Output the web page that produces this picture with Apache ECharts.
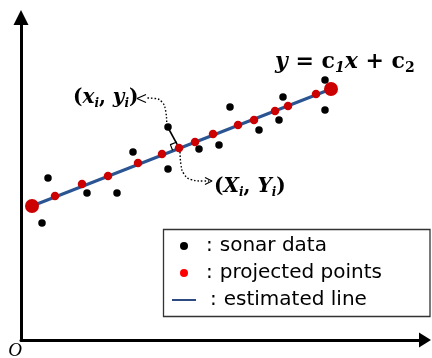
<!DOCTYPE html>
<html>
<head>
<meta charset="utf-8">
<script src="https://cdn.jsdelivr.net/npm/echarts@6/dist/echarts.min.js"></script>
<style>
html,body{margin:0;padding:0;background:#fff;}
#chart{width:432px;height:358px;}
</style>
</head>
<body>
<div id="chart"></div>
<script>
// ---- data (units = px offsets from the origin) ----
var sonarData = [
  [27,162],[21,117],[66,147],[96,147],[112,188],[147,213],[147,171],
  [178,191],[198,195],[209,233],[238,210],[258,220],[262,243],[304,260],[304,230]
];
var projectedPoints = [
  [34,144],[61,156],[87,164],[117,177],[141,186],[158,192],[174,198],
  [192,206],[217,215],[233,220],[254,229],[267,234],[295,246]
];
var lineEnds = [[11,134],[310,251]];
var perpSegment = [[146.7,213],[158.3,191.7]];
var rightAngle = [[151.6,189.6],[149.4,195.4],[155.9,198.0]];
var curveToSample = [[145.7,218],[144.5,230],[141,238],[134,241.5],[125,242]];
var arrowToSample = [[125,245.5],[116,241.5],[125,237.5]];
var curveToProj = [[159,188],[160,175],[163,166],[170,160.5],[182,159],[188,159]];
var arrowToProj = [[184,162.5],[191,159],[184,155.5]];
var legendNames = ['sonar data','projected points','estimated line'];

var chart = echarts.init(document.getElementById('chart'), null, {renderer:'canvas'});

function lineSeries(data, opts){
  return Object.assign({
    type:'line', data:data, symbol:'none', silent:true, z:3,
    lineStyle:{color:'#000', width:1.2}
  }, opts || {});
}

var option = {
  animation:false,
  backgroundColor:'#fff',
  grid:{left:21, right:7, top:17.5, bottom:18, outerBoundsMode:'none'},
  xAxis:{
    type:'value', min:0, max:404,
    axisLine:{show:true, onZero:false, lineStyle:{color:'#000', width:3},
      symbol:['none','triangle'], symbolSize:[15,12]},
    axisTick:{show:false}, axisLabel:{show:false}, splitLine:{show:false}
  },
  yAxis:{
    type:'value', min:0, max:322.5,
    axisLine:{show:true, onZero:false, lineStyle:{color:'#000', width:3},
      symbol:['none','triangle'], symbolSize:[15,15]},
    axisTick:{show:false}, axisLabel:{show:false}, splitLine:{show:false}
  },
  legend:{
    orient:'vertical', left:166, top:231, padding:5,
    itemWidth:24, itemHeight:8, itemGap:7,
    selectedMode:false,
    textStyle:{
      fontFamily:'DejaVu Sans', fontSize:20, color:'#000', lineHeight:20,
      rich:{
        c:{padding:[0,7,0,5], fontFamily:'DejaVu Sans', fontSize:20, lineHeight:20},
        c3:{padding:[0,7,0,9], fontFamily:'DejaVu Sans', fontSize:20, lineHeight:20},
        t:{fontFamily:'DejaVu Sans', fontSize:20, lineHeight:20}
      }
    },
    formatter:function(n){
      return (n === legendNames[2] ? '{c3|:}' : '{c|:}') + '{t|' + n + '}';
    },
    data:[
      {name:legendNames[0], icon:'circle', itemStyle:{color:'#000', opacity:1}},
      {name:legendNames[1], icon:'circle', itemStyle:{color:'#FF0000', opacity:1}},
      {name:legendNames[2], lineStyle:{color:'#2F4A80', width:2},
        itemStyle:{color:'rgba(0,0,0,0)', borderWidth:0, opacity:0}}
    ]
  },
  series:[
    lineSeries(lineEnds, {name:legendNames[2], z:2,
      lineStyle:{color:'#2A5592', width:3}, itemStyle:{color:'#2A5592'}}),
    lineSeries(perpSegment, {lineStyle:{color:'#000', width:1.6}}),
    lineSeries(rightAngle, {lineStyle:{color:'#000', width:1.2}}),
    lineSeries(curveToSample, {smooth:true, lineStyle:{color:'#000', width:1.4, type:[1.5,2]}}),
    lineSeries(arrowToSample, {lineStyle:{color:'#000', width:1.2}}),
    lineSeries(curveToProj, {smooth:true, lineStyle:{color:'#000', width:1.4, type:[1.5,2]}}),
    lineSeries(arrowToProj, {lineStyle:{color:'#000', width:1.2}}),
    {name:legendNames[0], type:'scatter', data:sonarData, symbol:'circle', symbolSize:7.5,
      itemStyle:{color:'#000', opacity:1}, z:4, silent:true},
    {name:legendNames[1], type:'scatter', data:projectedPoints, symbol:'circle', symbolSize:8.5,
      itemStyle:{color:'#CC0000', opacity:1}, z:5, silent:true},
    {name:'line ends', type:'scatter', data:lineEnds, symbol:'circle', symbolSize:14,
      itemStyle:{color:'#CC0000', opacity:1}, z:5, silent:true}
  ],
  graphic:[
    {type:'rect', shape:{x:163.5, y:229.5, width:266.5, height:87},
      style:{fill:'none', stroke:'#333', lineWidth:1.3}, z:1, silent:true},
    {type:'text', x:275, y:62, silent:true,
      style:{
        text:'{v|y}{o| = }{b|c}{s|1}{v|x}{o| + }{b|c}{s2|2}',
        verticalAlign:'middle', align:'left',
        rich:{
          v:{fontFamily:'DejaVu Serif', fontStyle:'italic', fontWeight:'bold', fontSize:22, lineHeight:26, fill:'#000'},
          o:{fontFamily:'DejaVu Serif', fontWeight:'bold', fontSize:22, lineHeight:26, fill:'#000'},
          b:{fontFamily:'DejaVu Serif', fontWeight:'bold', fontSize:22, lineHeight:26, fill:'#000'},
          s:{fontFamily:'DejaVu Serif', fontStyle:'italic', fontWeight:'bold', fontSize:14, lineHeight:15, verticalAlign:'bottom', fill:'#000'},
          s2:{fontFamily:'DejaVu Serif', fontWeight:'bold', fontSize:14, lineHeight:15, verticalAlign:'bottom', fill:'#000'}
        }
      }},
    {type:'text', x:73, y:98, silent:true,
      style:{
        text:'{p|(}{v|x}{s|i}{p|, }{v|y}{s|i}{p|)}',
        verticalAlign:'middle', align:'left',
        rich:{
          p:{fontFamily:'DejaVu Serif', fontWeight:'bold', fontSize:20, lineHeight:24, fill:'#000'},
          v:{fontFamily:'DejaVu Serif', fontStyle:'italic', fontWeight:'bold', fontSize:20, lineHeight:24, fill:'#000'},
          s:{fontFamily:'DejaVu Serif', fontStyle:'italic', fontWeight:'bold', fontSize:12, lineHeight:13, verticalAlign:'bottom', fill:'#000'}
        }
      }},
    {type:'text', x:214, y:187, silent:true,
      style:{
        text:'{p|(}{v|X}{s|i}{p|, }{v|Y}{s|i}{p|)}',
        verticalAlign:'middle', align:'left',
        rich:{
          p:{fontFamily:'DejaVu Serif', fontWeight:'bold', fontSize:20, lineHeight:24, fill:'#000'},
          v:{fontFamily:'DejaVu Serif', fontStyle:'italic', fontWeight:'bold', fontSize:20, lineHeight:24, fill:'#000'},
          s:{fontFamily:'DejaVu Serif', fontStyle:'italic', fontWeight:'bold', fontSize:12, lineHeight:13, verticalAlign:'bottom', fill:'#000'}
        }
      }},
    {type:'text', x:15, y:351, silent:true,
      style:{text:'O', fontFamily:'Liberation Serif', fontStyle:'italic', fontSize:19,
        fill:'#000', align:'center', verticalAlign:'middle'}}
  ]
};
chart.setOption(option);
</script>
</body>
</html>
